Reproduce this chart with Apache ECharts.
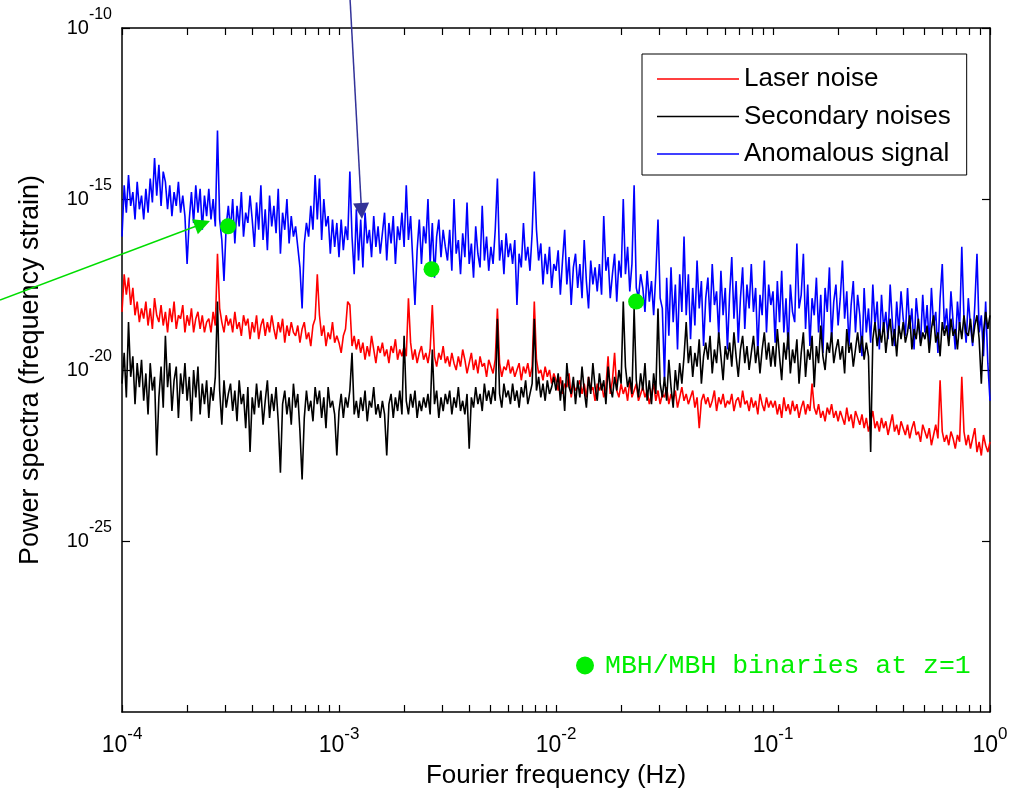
<!DOCTYPE html>
<html>
<head>
<meta charset="utf-8">
<title>Power spectra</title>
<script src="https://cdn.jsdelivr.net/npm/echarts@6/dist/echarts.min.js"></script>
<style>
    html, body { margin: 0; padding: 0; background: #fff; }
    #chart { width: 1016px; height: 798px; }
</style>
</head>
<body>
<div id="chart"></div>
<script>
    // sample grid: log10 of frequency, -4.00 .. 0.00, one sample every 0.01 decade
    const logFreq = [];
    for (let k = -400; k <= 0; k++) logFreq.push(k / 100);

    // series values, as log10 of the power spectrum (10 samples per row)
    const laserExp = [
        -18.3, -17.2, -17.8, -17.3, -18.1, -17.6, -18.4, -18.0, -18.6, -18.2,
        -18.5, -18.0, -18.7, -18.2, -18.8, -17.9, -18.4, -18.6, -18.1, -18.7,
        -18.3, -18.9, -18.2, -18.6, -18.0, -18.8, -18.4, -18.5, -18.1, -18.9,
        -18.4, -18.7, -18.2, -18.9, -18.5, -18.3, -18.8, -18.4, -18.9, -18.6,
        -18.5, -18.9, -18.3, -18.7, -16.6, -18.2, -18.6, -18.9, -18.4, -18.7,
        -18.5, -18.9, -18.3, -18.8, -18.6, -19.0, -18.4, -18.7, -18.5, -19.1,
        -18.6, -18.9, -18.4, -19.1, -18.7, -18.5, -19.0, -18.6, -18.9, -18.4,
        -18.8, -19.1, -18.6, -18.9, -18.5, -19.2, -18.7, -19.0, -18.6, -18.9,
        -19.0, -18.7, -19.2, -18.8, -18.6, -19.1, -18.9, -19.3, -18.7, -18.5,
        -17.2, -18.4, -19.0, -18.7, -19.3, -18.9, -19.1, -18.6, -19.2, -19.0,
        -19.2, -19.5, -19.0, -18.8, -18.0, -18.1, -19.3, -19.0, -19.4, -19.1,
        -19.5, -19.2, -19.7, -19.3, -19.6, -19.0, -19.4, -19.8, -19.3, -19.5,
        -19.2, -19.6, -19.4, -19.8, -19.3, -19.5, -19.1, -19.7, -19.4, -19.6,
        -19.3, -19.6, -17.9, -19.2, -19.7, -19.4, -19.8, -19.5, -19.3, -19.7,
        -19.5, -19.8, -19.4, -18.1, -19.6, -19.9, -19.5, -19.7, -19.3, -19.8,
        -19.6, -19.9, -19.5, -19.8, -20.0, -19.6, -19.9, -19.4, -19.7, -20.1,
        -19.8, -19.5, -20.0, -19.7, -20.1, -19.6, -19.9, -19.8, -20.2, -19.7,
        -19.9, -20.1, -19.7, -18.2, -19.8, -20.2, -19.9, -20.0, -19.7, -20.1,
        -19.9, -20.2, -20.0, -19.8, -20.3, -19.9, -20.1, -19.8, -20.2, -19.9,
        -18.0, -19.7, -20.1, -20.0, -20.3, -19.9, -20.2, -20.0, -20.4, -20.1,
        -20.3, -20.6, -20.2, -20.7, -20.4, -20.5, -20.1, -20.8, -20.4, -20.6,
        -20.5, -20.3, -20.7, -20.4, -20.8, -20.2, -20.6, -20.5, -20.9, -20.4,
        -20.6, -20.4, -20.8, -20.5, -19.6, -20.7, -20.3, -19.5, -20.6, -20.8,
        -20.4, -20.7, -20.5, -20.9, -20.3, -20.8, -20.6, -20.4, -20.9, -20.7,
        -20.5, -20.8, -20.6, -21.0, -20.7, -20.4, -20.9, -20.6, -21.0, -20.7,
        -20.8, -20.5, -21.0, -20.7, -20.9, -20.6, -21.1, -20.8, -20.5, -20.9,
        -20.7, -21.0, -20.8, -20.6, -21.1, -20.8, -21.7, -20.9, -20.7, -21.0,
        -20.8, -21.1, -20.9, -20.6, -21.2, -20.8, -21.0, -20.7, -21.1, -20.9,
        -21.0, -20.7, -21.2, -20.9, -20.8, -21.1, -20.6, -21.0, -20.9, -21.2,
        -20.8, -21.1, -20.9, -21.3, -20.7, -21.0, -21.2, -20.8, -21.1, -20.9,
        -21.1, -20.9, -21.3, -21.0, -21.4, -20.8, -21.2, -21.0, -21.3, -20.9,
        -21.2, -21.0, -21.4, -21.1, -20.9, -21.3, -21.0, -21.2, -20.4, -21.1,
        -21.3, -21.0, -21.4, -21.2, -21.5, -21.1, -21.3, -21.0, -21.4, -21.2,
        -21.5, -21.2, -21.4, -21.6, -21.1, -21.5, -21.3, -21.7, -21.2, -21.4,
        -21.6, -21.3, -21.7, -21.4, -21.8, -21.5, -21.2, -21.7, -21.5, -21.8,
        -21.4, -21.7, -21.5, -21.9, -21.6, -21.3, -21.8, -21.6, -21.9, -21.5,
        -21.7, -21.9, -21.6, -22.0, -21.7, -21.5, -21.9, -21.8, -22.1, -21.6,
        -21.8, -22.0, -21.7, -22.2, -21.9, -21.6, -22.0, -20.3, -21.8, -22.1,
        -21.9, -22.2, -21.8, -22.0, -22.3, -21.9, -22.1, -20.2, -21.8, -22.2,
        -21.9, -22.3, -22.0, -21.7, -22.4, -22.1, -22.5, -21.9, -22.2, -22.4,
        -22.1
    ];

    const secondaryExp = [
        -20.4, -19.5, -20.8, -18.6, -20.2, -19.6, -21.0, -19.8, -20.5, -19.7,
        -20.9, -20.1, -21.3, -19.8, -20.6, -20.2, -22.5, -20.8, -19.9, -21.1,
        -19.0, -20.5, -19.8, -21.2, -20.3, -19.9, -21.4, -20.1, -20.7, -19.8,
        -20.9, -20.2, -21.5, -20.0, -20.8, -19.9, -21.3, -20.4, -21.0, -20.3,
        -21.4, -20.5, -20.9, -20.2, -18.0, -20.6, -21.6, -20.3, -21.1, -20.7,
        -20.4, -21.2, -20.6, -21.5, -20.3, -21.0, -20.7, -21.7, -20.5, -22.4,
        -20.8, -21.3, -20.4, -21.1, -20.6, -21.6, -20.9, -20.3, -21.4, -20.7,
        -21.2, -20.5, -21.5, -23.0, -21.0, -20.6, -21.3, -20.8, -21.6, -20.4,
        -21.1, -20.7, -21.8, -23.2, -21.4, -20.6, -21.2, -20.9, -21.5, -20.5,
        -21.0, -20.6, -21.4, -20.8, -21.7, -20.5, -21.1, -20.9, -21.3, -22.5,
        -21.2, -20.7, -21.4, -20.8, -21.1, -20.6, -19.5, -21.3, -20.9, -21.4,
        -20.8, -21.2, -20.6, -21.5, -20.9, -21.1, -20.5, -21.3, -21.0, -21.4,
        -20.9, -21.3, -22.5, -21.0, -20.7, -21.4, -20.8, -21.2, -20.6, -21.3,
        -19.0, -20.9, -21.3, -20.7, -21.1, -20.6, -21.4, -20.9, -21.2, -20.8,
        -21.1, -20.7, -21.3, -19.4, -21.0, -20.6, -21.4, -20.8, -21.2, -20.7,
        -21.0, -20.6, -21.3, -20.8, -21.1, -20.5, -21.2, -20.9, -21.3, -20.7,
        -22.3, -20.8, -21.1, -20.5, -21.0, -20.7, -21.2, -20.4, -20.9, -20.6,
        -21.0, -20.5, -20.9, -18.5, -20.7, -21.1, -20.4, -20.8, -20.6, -21.0,
        -20.4, -20.9, -20.6, -21.1, -20.5, -20.8, -20.3, -21.0, -20.7, -20.4,
        -18.5, -20.6, -20.2, -20.8, -20.4, -20.9, -20.3, -20.7, -20.5, -20.2,
        -20.6, -20.1, -20.9, -20.3, -21.2, -19.8, -20.5, -20.7, -20.2, -21.0,
        -20.3, -20.8, -19.9, -20.6, -21.1, -20.2, -20.7, -19.8, -20.5, -20.9,
        -20.1, -20.6, -20.3, -21.0, -19.9, -20.5, -20.8, -20.2, -20.6, -20.0,
        -20.4, -18.0, -19.9, -20.5, -20.2, -20.7, -18.2, -20.3, -20.8, -20.1,
        -20.6, -19.8, -20.9, -20.3, -21.0, -20.1, -20.7, -18.2, -20.4, -20.8,
        -20.2, -20.9, -19.7, -20.5, -21.1, -20.0, -20.6, -19.8, -20.4, -19.6,
        -18.6, -19.8, -19.3, -20.2, -19.5, -19.9, -19.1, -20.4, -19.6, -19.2,
        -19.7, -19.0, -20.1, -19.4, -19.8, -18.9, -19.6, -20.3, -19.3, -19.7,
        -19.2, -19.9, -18.9, -19.6, -20.2, -19.4, -19.0, -19.8, -19.3, -20.0,
        -19.5, -19.0, -19.8, -19.3, -20.1, -19.4, -18.9, -19.7, -19.2, -19.9,
        -19.3, -19.9, -18.8, -19.6, -20.3, -19.2, -19.7, -18.9, -20.1, -19.4,
        -19.8, -19.1, -20.4, -19.5, -18.9, -20.2, -19.4, -19.7, -19.0, -20.5,
        -19.3, -19.8, -18.7, -19.6, -20.0, -19.2, -19.5, -18.9, -19.8, -19.4,
        -19.1, -19.7, -19.3, -20.1, -18.8, -19.5, -19.2, -19.9, -19.4, -18.9,
        -19.5, -19.0, -19.7, -19.2, -19.6, -22.4, -19.1, -18.6, -19.3, -18.8,
        -19.2, -18.6, -19.5, -18.9, -18.5, -19.3, -18.8, -19.6, -18.7, -19.1,
        -18.6, -19.2, -18.9, -18.4, -19.4, -18.8, -19.1, -18.5, -19.3, -18.9,
        -19.1, -18.7, -19.5, -18.8, -18.4, -19.2, -18.9, -19.6, -18.6, -19.0,
        -18.7, -19.3, -18.5, -19.0, -18.8, -19.4, -18.6, -19.1, -18.4, -18.9,
        -19.0, -18.5, -19.2, -18.7, -18.4, -19.1, -20.4, -18.9, -18.3, -18.8,
        -18.4
    ];

    const anomalousExp = [
        -16.1, -14.6, -15.4, -14.3, -15.2, -14.8, -15.6, -14.5, -15.3, -14.9,
        -15.6, -14.7, -15.4, -14.4, -15.1, -13.8, -14.9, -14.0, -15.2, -14.2,
        -14.5, -15.3, -14.6, -15.5, -14.8, -15.2, -14.5, -15.4, -14.9, -15.5,
        -16.9, -15.6, -14.8, -15.7, -14.6, -15.4, -14.7, -15.9, -14.9, -15.5,
        -14.7, -15.6, -15.0, -15.8, -13.0, -15.6, -16.2, -17.4, -15.8, -15.2,
        -15.9, -15.0, -16.3, -15.2, -15.8, -14.8, -16.1, -15.4, -15.7, -14.9,
        -15.6, -16.4, -15.1, -15.9, -14.6, -16.2, -15.3, -16.5, -14.9, -15.8,
        -15.2, -16.0, -14.7, -16.6, -15.4, -15.9, -15.0, -16.3, -15.5, -16.1,
        -15.8, -16.4, -17.0, -18.2, -16.3, -15.7, -16.1, -15.2, -15.9, -14.3,
        -15.6, -14.4, -16.2, -15.0, -15.8, -15.5, -16.6, -15.6, -16.4, -15.7,
        -16.7, -15.6, -16.5, -15.8, -16.2, -14.2, -16.1, -17.2, -15.3, -16.8,
        -15.6, -17.0, -15.4, -16.3, -15.9, -16.7, -15.5, -16.4, -15.8, -16.6,
        -16.0, -15.4, -16.8, -15.7, -16.3, -15.5, -16.9, -15.8, -16.2, -15.4,
        -16.4, -14.6, -16.2, -15.5, -16.8, -18.1, -16.5, -15.6, -16.9, -15.8,
        -16.3, -15.0, -16.9, -15.7, -17.3, -16.1, -15.6, -16.7, -15.9, -16.4,
        -16.8, -15.9, -17.1, -15.0, -16.6, -16.2, -17.2, -16.0, -16.7, -15.1,
        -16.9, -16.3, -17.3, -15.8, -16.6, -17.0, -15.2, -16.8, -16.1, -17.1,
        -16.4, -16.9, -15.9, -14.4, -16.8, -16.2, -17.2, -16.0, -16.7, -16.3,
        -16.9, -16.2, -18.1, -16.6, -17.0, -15.7, -16.8, -16.4, -17.1, -16.0,
        -14.2, -15.9, -16.8, -16.3, -17.5, -16.6, -17.2, -16.4, -17.6, -16.9,
        -17.1, -16.5, -17.8, -16.8, -15.9, -17.5, -16.7, -18.1, -17.0, -16.6,
        -17.6, -16.9, -17.9, -16.2, -17.4, -18.2, -16.8, -17.5, -17.0, -17.7,
        -16.9, -17.8, -15.5, -17.1, -16.7, -17.9, -17.2, -16.6, -18.0, -16.8,
        -17.3, -15.0, -17.2, -16.4, -17.7, -16.9, -14.6, -17.6, -17.9, -17.2,
        -17.6, -18.3, -17.1, -18.0, -17.4, -18.4, -17.2, -15.6, -17.9, -18.2,
        -20.3, -17.3, -19.0, -17.0, -18.6, -17.5, -19.4, -17.2, -18.3, -16.1,
        -18.4, -17.2, -19.1, -17.6, -18.7, -16.8, -18.2, -17.4, -19.3, -17.9,
        -17.3, -18.6, -16.9, -18.1, -17.7, -19.0, -17.1, -18.4, -17.6, -19.4,
        -17.8, -16.7, -18.5, -17.4, -19.2, -17.9, -17.0, -18.8, -17.5, -18.2,
        -16.9, -18.3, -17.6, -19.5, -17.8, -18.4, -16.8, -18.9, -17.5, -18.1,
        -17.7, -19.2, -17.4, -18.6, -17.1, -18.9, -17.9, -19.4, -17.5, -18.3,
        -18.6, -16.3, -18.2, -17.8, -16.6, -18.8, -17.5, -19.3, -17.9, -18.4,
        -17.3, -18.9, -17.8, -19.5, -17.6, -18.3, -17.0, -19.1, -18.0, -17.5,
        -18.7, -17.9, -16.8, -18.5, -17.7, -19.3, -18.1, -17.4, -18.9, -17.8,
        -18.4, -19.6, -17.6, -18.9, -18.2, -19.2, -17.5, -18.7, -18.0, -19.4,
        -17.8, -18.8, -18.3, -19.1, -17.5, -18.6, -19.3, -18.0, -18.9, -17.7,
        -18.5, -19.0, -17.6, -18.8, -18.2, -19.4, -17.9, -18.6, -19.2, -17.8,
        -18.9, -18.1, -19.3, -17.6, -18.7, -18.3, -19.5, -17.9, -16.9, -18.8,
        -18.2, -19.1, -17.7, -18.6, -19.4, -18.0, -18.8, -16.4, -18.5, -19.2,
        -17.9, -18.7, -19.3, -18.1, -16.6, -18.9, -18.4, -19.6, -18.0, -19.8,
        -20.9
    ];

    // MBH/MBH binaries at z=1 (green dots)
    const mbhFreq = [3.08e-4, 2.67e-3, 2.34e-2];
    const mbhPower = [1.6e-16, 8.9e-18, 1.0e-18];

    // annotation arrows, [frequency, power] from -> to
    const greenArrow = [[2.74e-5, 1.11e-18], [2.35e-4, 1.88e-16]];
    const blueArrow = [[1.125e-3, 6.6e-10], [1.27e-3, 4.46e-16]];

    // x tick marks: 1..9 in every decade
    const tickMantissas = [1, 2, 3, 4, 5, 6, 7, 8, 9];
    const tickDecades = [-4, -3, -2, -1];
    const xTickValues = [];
    tickDecades.forEach((d) => {
        tickMantissas.forEach((m) => xTickValues.push(m * Math.pow(10, d)));
    });
    xTickValues.push(1);

    const legendNames = ['Laser noise', 'Secondary noises', 'Anomalous signal'];
    const mbhName = 'MBH/MBH binaries at z=1';

    function toPairs(exps) {
        return exps.map((e, i) => [Math.pow(10, logFreq[i]), Math.pow(10, e)]);
    }

    function powerLabel(v) {
        return '{b|10}{s|' + Math.round(Math.log10(v)) + '}';
    }

    let myChart = echarts.init(document.getElementById('chart'));

    let frameLine = { show: true, onZero: false, lineStyle: { color: '#000', width: 1.5 } };

    let option = {
        backgroundColor: '#fff',
        animation: false,
        textStyle: { fontFamily: 'Liberation Sans', color: '#000' },
        grid: { left: 122, top: 28, width: 868, height: 684, outerBoundsMode: 'none' },
        legend: [{
            // plain line samples, no symbol in the middle
            data: legendNames.map((n) => ({ name: n, icon: 'rect' })),
            orient: 'vertical',
            left: 642,
            top: 54,
            padding: [12, 16, 8, 15],
            itemWidth: 82,
            itemHeight: 1.6,
            itemGap: 11.5,
            borderColor: '#000',
            borderWidth: 1,
            backgroundColor: '#fff',
            selectedMode: false,
            textStyle: { fontFamily: 'Liberation Sans', fontSize: 26, lineHeight: 26, color: '#000' }
        }, {
            data: [{ name: mbhName, icon: 'circle' }],
            left: 576,
            top: 652,
            padding: 0,
            itemWidth: 18,
            itemHeight: 18,
            selectedMode: false,
            textStyle: {
                fontFamily: 'Liberation Mono', fontSize: 26.5, lineHeight: 26,
                color: '#00ee00', padding: [0, 0, 0, 6]
            }
        }],
        xAxis: [{
            type: 'log',
            logBase: 10,
            min: 1e-4,
            max: 1,
            position: 'bottom',
            name: 'Fourier frequency (Hz)',
            nameLocation: 'middle',
            nameGap: 51,
            nameTextStyle: { fontSize: 26, color: '#000' },
            axisLine: frameLine,
            axisTick: { inside: true, length: 7, customValues: xTickValues, lineStyle: { color: '#000', width: 1.2 } },
            axisLabel: {
                margin: 14,
                formatter: powerLabel,
                rich: {
                    b: { fontSize: 23, lineHeight: 39, verticalAlign: 'middle', color: '#000' },
                    s: { fontSize: 17, lineHeight: 17, verticalAlign: 'top', color: '#000' }
                }
            },
            splitLine: { show: false }
        }, {
            type: 'log',
            logBase: 10,
            min: 1e-4,
            max: 1,
            position: 'top',
            axisLine: frameLine,
            axisTick: { inside: true, length: 7, customValues: xTickValues, lineStyle: { color: '#000', width: 1.2 } },
            axisLabel: { show: false },
            splitLine: { show: false }
        }],
        yAxis: [{
            type: 'log',
            logBase: 10,
            min: 1e-30,
            max: 1e-10,
            interval: 5,
            position: 'left',
            name: 'Power spectra (frequency strain)',
            nameLocation: 'middle',
            nameRotate: 90,
            nameGap: 78,
            nameMoveOverlap: false,
            nameTextStyle: { fontSize: 27, color: '#000' },
            axisLine: frameLine,
            axisTick: { inside: true, length: 8, lineStyle: { color: '#000', width: 1.2 } },
            axisLabel: {
                margin: 10,
                formatter: powerLabel,
                rich: {
                    b: { fontSize: 20, lineHeight: 42, verticalAlign: 'middle', color: '#000' },
                    s: { fontSize: 16, lineHeight: 16, verticalAlign: 'top', color: '#000' }
                }
            },
            splitLine: { show: false }
        }, {
            type: 'log',
            logBase: 10,
            min: 1e-30,
            max: 1e-10,
            interval: 5,
            position: 'right',
            axisLine: frameLine,
            axisTick: { inside: true, length: 8, lineStyle: { color: '#000', width: 1.2 } },
            axisLabel: { show: false },
            splitLine: { show: false }
        }],
        series: [{
            name: 'Laser noise',
            type: 'line',
            data: toPairs(laserExp),
            color: '#ff0000',
            symbol: 'none',
            showSymbol: false,
            lineStyle: { color: '#ff0000', width: 1.6 }
        }, {
            name: 'Anomalous signal',
            type: 'line',
            data: toPairs(anomalousExp),
            color: '#0000ff',
            symbol: 'none',
            showSymbol: false,
            lineStyle: { color: '#0000ff', width: 1.6 }
        }, {
            name: 'Secondary noises',
            type: 'line',
            data: toPairs(secondaryExp),
            color: '#000000',
            symbol: 'none',
            showSymbol: false,
            lineStyle: { color: '#000000', width: 1.6 }
        }, {
            name: mbhName,
            type: 'scatter',
            data: mbhFreq.map((f, i) => [f, mbhPower[i]]),
            color: '#00ee00',
            symbol: 'circle',
            symbolSize: 16,
            itemStyle: { opacity: 1 },
            z: 4
        }, {
            type: 'lines',
            coordinateSystem: 'cartesian2d',
            clip: false,
            symbol: ['none', 'triangle'],
            symbolSize: [13, 16],
            lineStyle: { width: 1.5, opacity: 1, curveness: 0 },
            data: [
                { coords: greenArrow, lineStyle: { color: '#00dd00' } },
                { coords: blueArrow, lineStyle: { color: '#333399' } }
            ],
            z: 5
        }]
    };
    myChart.setOption(option);
</script>
</body>
</html>
